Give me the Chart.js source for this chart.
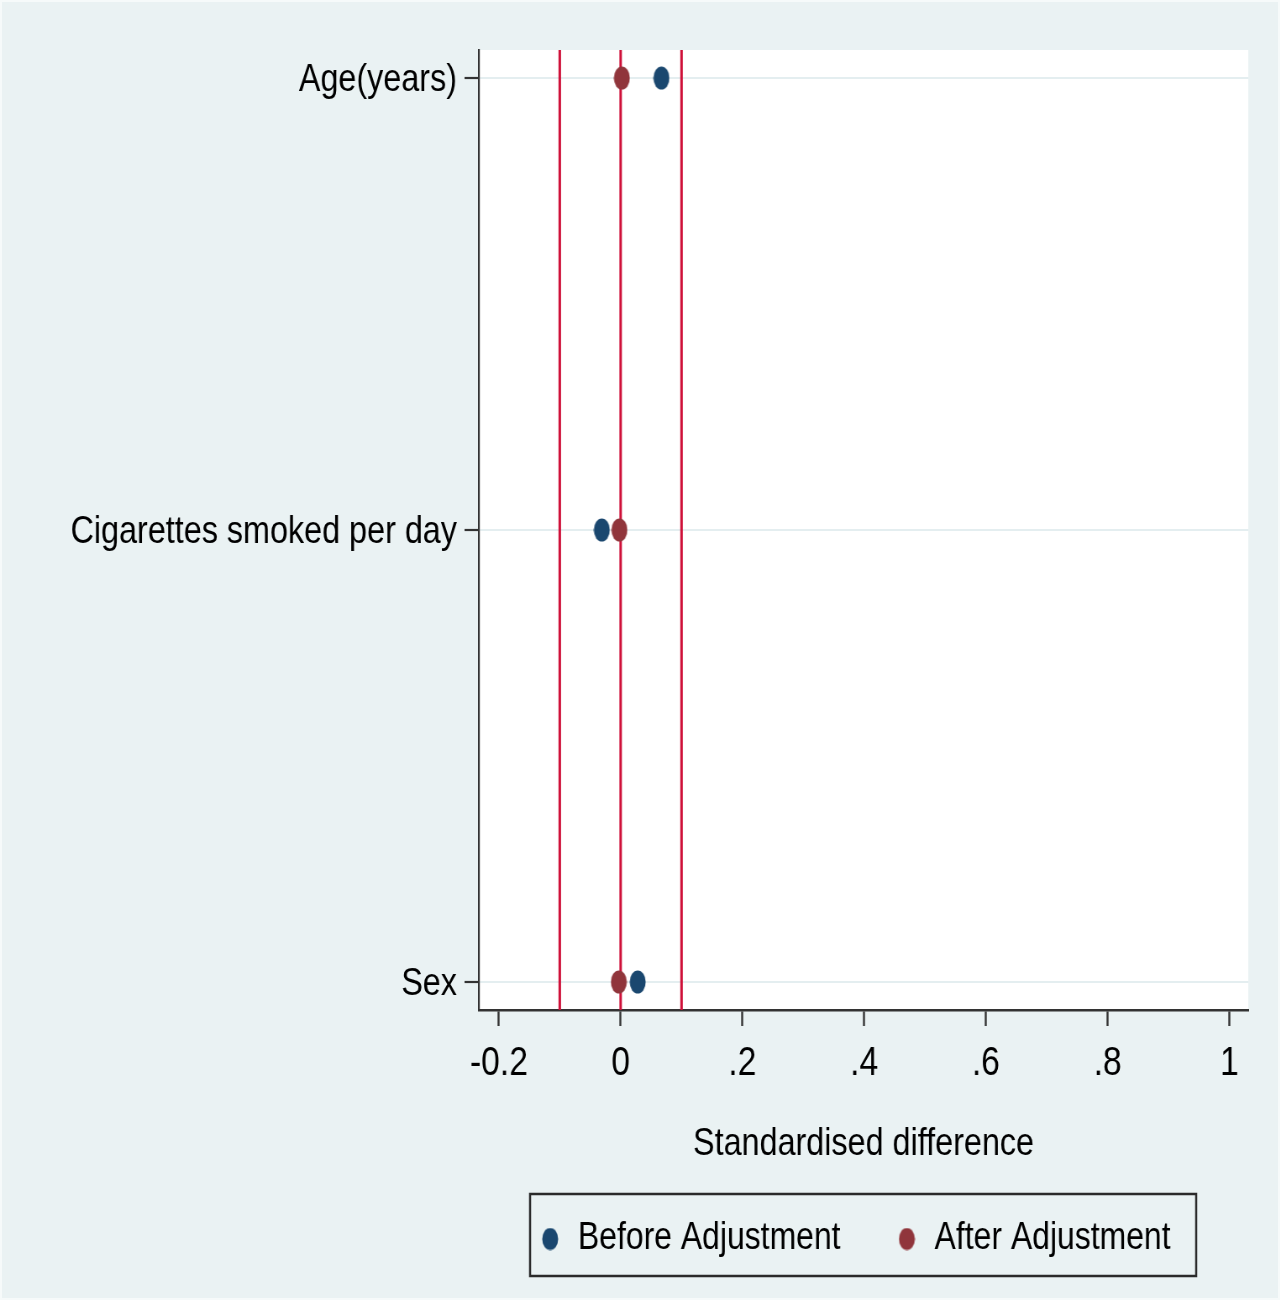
<!DOCTYPE html>
<html><head><meta charset="utf-8">
<script src="https://cdn.jsdelivr.net/npm/chart.js@4.4.1/dist/chart.umd.min.js"></script>
<style>
html,body{margin:0;padding:0;background:#EAF2F3;overflow:hidden;}
#wrap{width:1280px;height:1300px;position:relative;overflow:hidden;}
#c{display:block;position:absolute;left:0;top:0;transform-origin:0 0;transform:scaleX(0.84);}
#frame{position:absolute;left:0;top:0;width:1280px;height:1300px;box-sizing:border-box;border:2px solid #F6FAFA;pointer-events:none;}
</style>
</head><body><div id="wrap"><canvas id="c" width="1524" height="1300"></canvas><div id="frame"></div></div>
<script>
const categories = ['Age(years)', 'Cigarettes smoked per day', 'Sex'];
const beforeAdjustment = [0.067, -0.031, 0.028];
const afterAdjustment = [0.002, -0.002, -0.003];
const referenceLines = [-0.1, 0, 0.1];
const xTickValues = [-0.2, 0, 0.2, 0.4, 0.6, 0.8, 1];
const xTickLabels = ['-0.2', '0', '.2', '.4', '.6', '.8', '1'];
const seriesNames = ['Before Adjustment', 'After Adjustment'];
const xTitle = 'Standardised difference';

const FONT = "'Liberation Sans', Arial, sans-serif";
const BLUE = '#1A476F', MAROON = '#90353B', RED = '#CF1039';

function ellipse(color, w, h) {
  const c = document.createElement('canvas');
  c.width = w; c.height = h;
  const g = c.getContext('2d');
  g.fillStyle = color;
  g.beginPath();
  g.ellipse(w / 2, h / 2, w / 2 - 0.5, h / 2 - 0.5, 0, 0, Math.PI * 2);
  g.fill();
  return c;
}
const dotBlue = ellipse(BLUE, 20, 24), dotRed = ellipse(MAROON, 20, 24);
const legBlue = ellipse(BLUE, 20, 23), legRed = ellipse(MAROON, 20, 23);

const Y_MIN = -0.062, Y_MAX = categories.length - 1 + 0.062;
const LEG_PAD = 65;

const datasets = [
  {
    label: seriesNames[0], type: 'scatter', order: 1,
    data: categories.map((c, i) => ({x: beforeAdjustment[i], y: i})),
    pointStyle: dotBlue, backgroundColor: BLUE, borderColor: BLUE, pointRadius: 10
  },
  {
    label: seriesNames[1], type: 'scatter', order: 0,
    data: categories.map((c, i) => ({x: afterAdjustment[i], y: i})),
    pointStyle: dotRed, backgroundColor: MAROON, borderColor: MAROON, pointRadius: 10
  }
].concat(referenceLines.map(v => ({
  label: 'ref', type: 'line', order: 5, isRef: true,
  data: [{x: v, y: Y_MIN}, {x: v, y: Y_MAX}],
  borderColor: RED, borderWidth: 3, pointRadius: 0, fill: false
})));

const legendPlugin = {
  id: 'legendFix',
  beforeInit(chart) {
    const lg = chart.legend;
    if (!lg) return;
    const fit = lg.fit;
    lg.fit = function () { fit.call(this); this.height = 84; };
  },
  afterLayout(chart) {
    const lg = chart.legend;
    chart.$legBox = {top: lg.top, bottom: lg.bottom};
    const dx = chart.chartArea.left + 71 - LEG_PAD - lg.left;
    lg.left += dx; lg.right += dx;
    lg.top = lg.top + 27 - LEG_PAD;
  },
  afterDraw(chart) {
    const ctx = chart.ctx;
    const l = chart.chartArea.left + 61;
    const r = chart.chartArea.right - 62;
    ctx.save();
    ctx.strokeStyle = '#2a2a2a';
    ctx.lineWidth = 2.5;
    ctx.strokeRect(l, chart.$legBox.top + 1, r - l, chart.$legBox.bottom - chart.$legBox.top - 2);
    ctx.restore();
  }
};

const plotBg = {
  id: 'plotBg',
  beforeDraw(chart) {
    const {ctx, chartArea: a} = chart;
    ctx.save();
    ctx.fillStyle = '#FFFFFF';
    ctx.fillRect(a.left, a.top, a.right - a.left, a.bottom - a.top);
    ctx.restore();
  }
};

new Chart(document.getElementById('c'), {
  type: 'scatter',
  data: {datasets},
  plugins: [legendPlugin, plotBg],
  options: {
    responsive: false, animation: false, devicePixelRatio: 1,
    layout: {padding: {left: 0, top: 50, right: 38, bottom: 23}},
    scales: {
      x: {
        type: 'linear', min: -0.233, max: 1.031,
        afterBuildTicks(s) { s.ticks = xTickValues.map(v => ({value: v})); },
        afterFit(s) { s.height = 183; },
        ticks: {
          callback: (v, i) => xTickLabels[i],
          font: {family: FONT, size: 40}, color: '#000', padding: 14, maxRotation: 0, autoSkip: false
        },
        grid: {drawOnChartArea: false, drawTicks: true, tickLength: 16, tickColor: '#333', tickWidth: 2.4},
        border: {display: true, color: '#333', width: 2.4},
        title: {display: true, text: xTitle, font: {family: FONT, size: 38.5}, color: '#000', padding: {top: 0, bottom: 26}}
      },
      y: {
        type: 'linear', reverse: true, min: Y_MIN, max: Y_MAX,
        afterBuildTicks(s) { s.ticks = categories.map((c, i) => ({value: i})); },
        afterFit(s) { s.width = 570; },
        ticks: {
          callback: (v) => categories[v],
          font: {family: FONT, size: 38.5}, color: '#000', padding: 9, autoSkip: false, labelOffset: 2
        },
        grid: {color: '#E4EEF0', lineWidth: 2, drawTicks: true, tickLength: 17, tickColor: '#333', tickWidth: 2.2},
        border: {display: true, color: '#333', width: 2.2}
      }
    },
    plugins: {
      tooltip: {enabled: false},
      legend: {
        position: 'bottom', align: 'start',
        labels: {
          usePointStyle: true, pointStyleWidth: 28, padding: LEG_PAD,
          font: {family: FONT, size: 38}, color: '#000',
          filter: (item, data) => !data.datasets[item.datasetIndex].isRef,
          generateLabels(chart) {
            return chart.data.datasets.map((d, i) => ({
              text: d.label, datasetIndex: i, hidden: false,
              pointStyle: i === 0 ? legBlue : legRed,
              fillStyle: d.backgroundColor, strokeStyle: d.borderColor, lineWidth: 0
            }));
          }
        }
      }
    }
  }
});
</script>
</body></html>
